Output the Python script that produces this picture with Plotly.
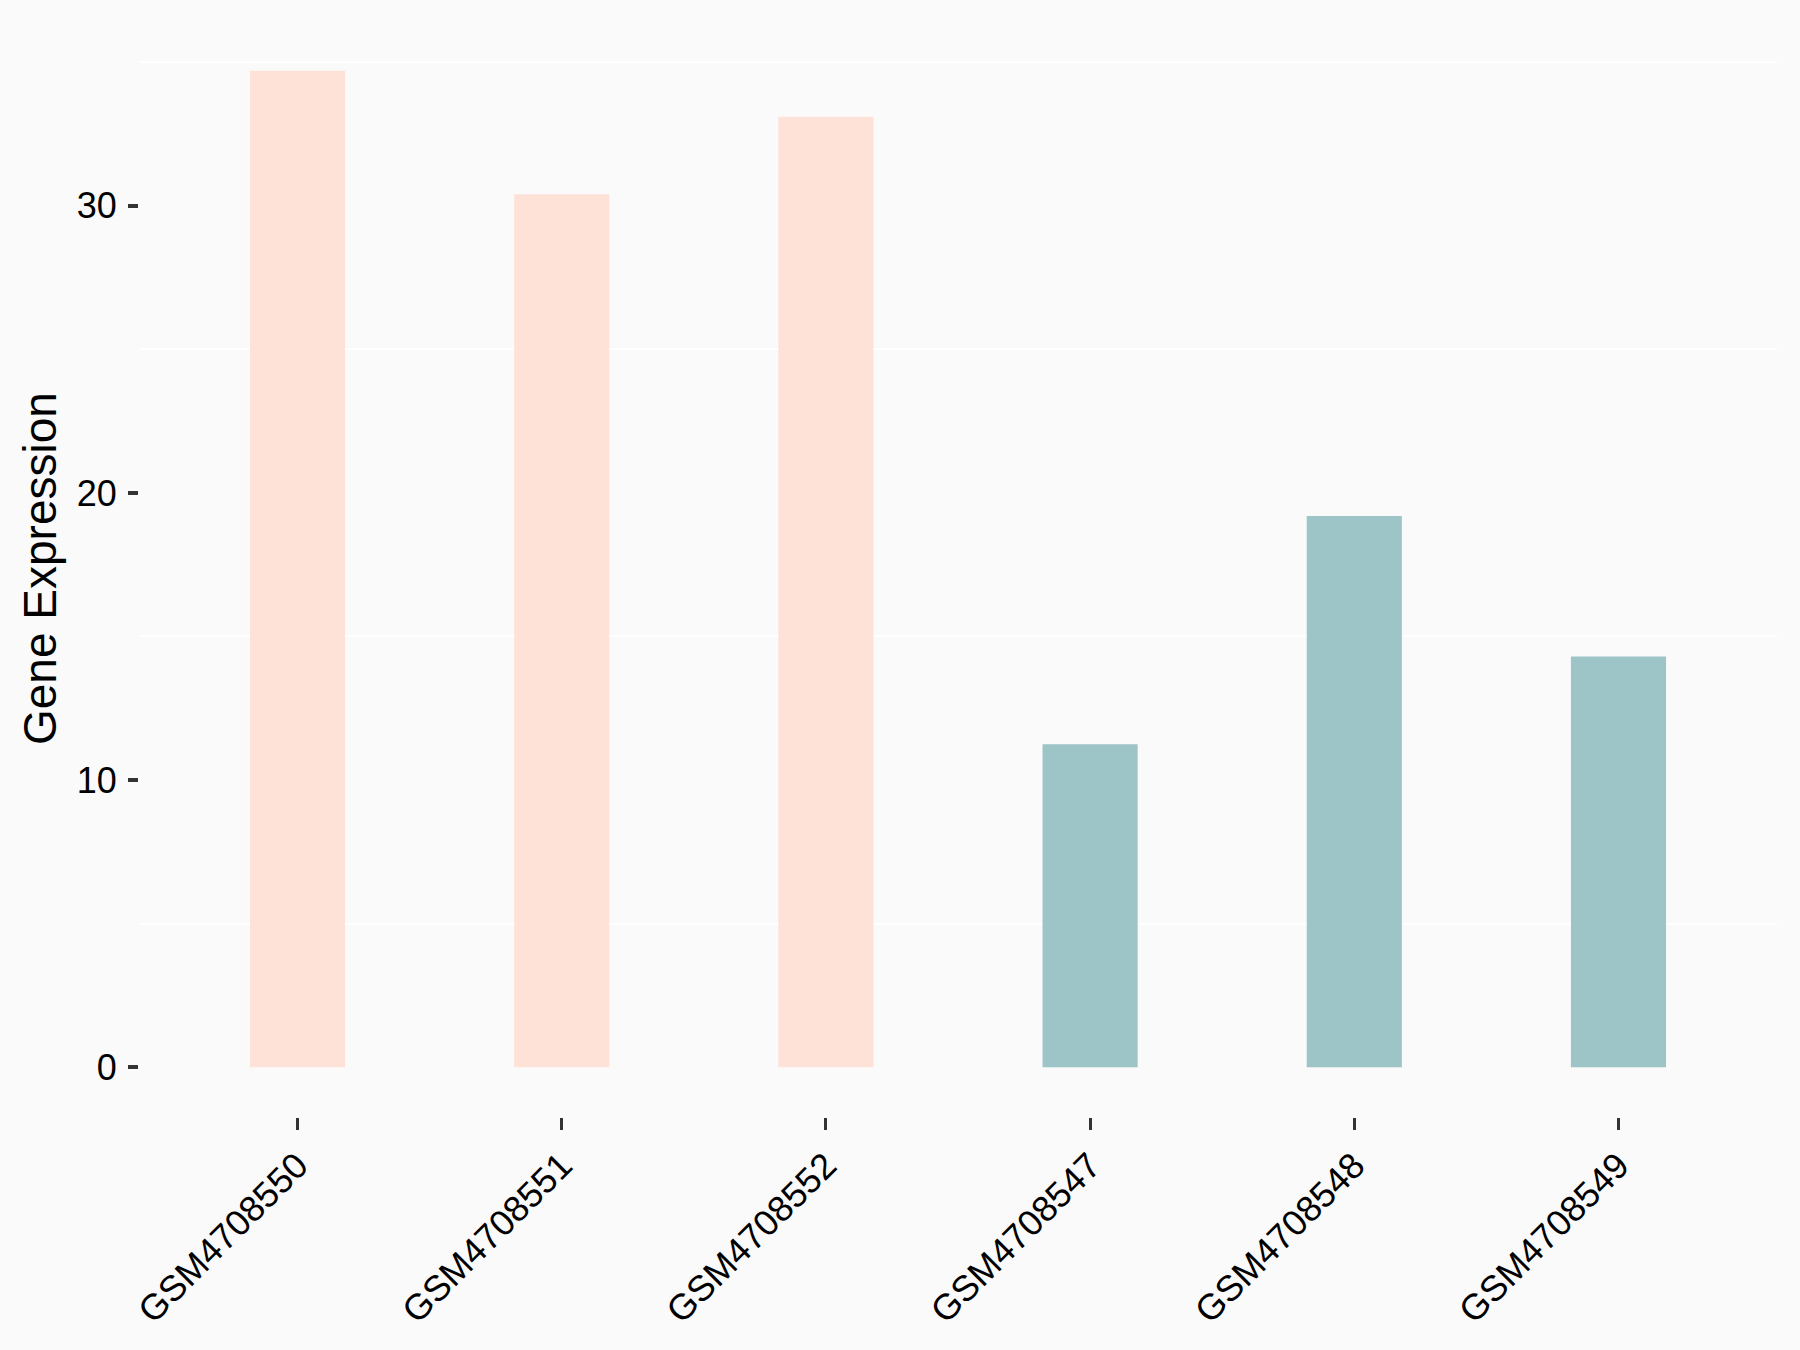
import plotly.graph_objects as go

samples = ["GSM4708550", "GSM4708551", "GSM4708552", "GSM4708547", "GSM4708548", "GSM4708549"]
expression = [34.7, 30.4, 33.1, 11.25, 19.2, 14.3]
bar_colors = ["#FEE1D7", "#FEE1D7", "#FEE1D7", "#9DC4C7", "#9DC4C7", "#9DC4C7"]
y_ticks = [0, 10, 20, 30]

bg = "#FAFAFA"
font_family = "Liberation Sans, Arial, sans-serif"

fig = go.Figure()
fig.add_trace(
    go.Bar(
        x=samples,
        y=expression,
        width=0.36,
        marker=dict(color=bar_colors, line=dict(width=0)),
        showlegend=False,
    )
)

ymax = max(expression)
fig.update_layout(
    width=1800,
    height=1350,
    paper_bgcolor=bg,
    plot_bgcolor=bg,
    margin=dict(l=139, r=23, t=21, b=233),
    font=dict(family=font_family, color="black", size=36),
    xaxis=dict(
        type="category",
        range=[-0.6, len(samples) - 0.4],
        showgrid=False,
        zeroline=False,
        showline=False,
        ticks="outside",
        ticklen=12,
        tickwidth=3,
        tickcolor="#333333",
        tickangle=-45,
        ticklabelstandoff=0,
        tickfont=dict(size=36, color="black"),
    ),
    yaxis=dict(
        range=[-0.05 * ymax, 1.05 * ymax],
        tickvals=y_ticks,
        showgrid=False,
        zeroline=False,
        showline=False,
        ticks="outside",
        ticklen=10,
        tickwidth=4,
        tickcolor="#333333",
        ticklabelstandoff=4,
        tickfont=dict(size=36, color="black"),
        minor=dict(
            tick0=5,
            dtick=10,
            showgrid=True,
            gridcolor="#FFFFFF",
            gridwidth=2,
        ),
    ),
    annotations=[
        dict(
            text="Gene Expression",
            xref="paper",
            yref="paper",
            x=0,
            y=0.5,
            xshift=-99,
            textangle=-90,
            showarrow=False,
            xanchor="center",
            yanchor="middle",
            font=dict(size=46, color="black", family=font_family),
        )
    ],
)

fig.write_html(
    "out.html",
    config={"displayModeBar": False},
    post_script="document.body.style.margin='0';document.body.style.background='#FAFAFA';",
)
